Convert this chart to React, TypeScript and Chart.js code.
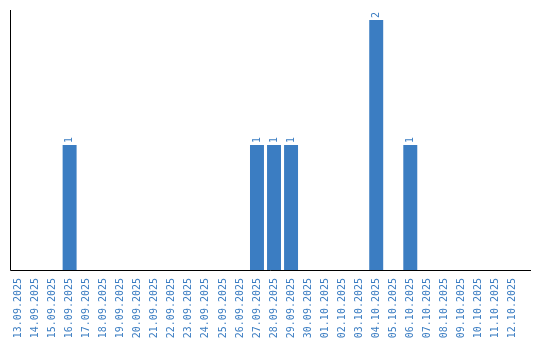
import React, { useEffect, useRef } from "react";
import { Chart, registerables } from "chart.js";

Chart.register(...registerables);

const dates = [
  "13.09.2025", "14.09.2025", "15.09.2025", "16.09.2025", "17.09.2025", "18.09.2025",
  "19.09.2025", "20.09.2025", "21.09.2025", "22.09.2025", "23.09.2025", "24.09.2025",
  "25.09.2025", "26.09.2025", "27.09.2025", "28.09.2025", "29.09.2025", "30.09.2025",
  "01.10.2025", "02.10.2025", "03.10.2025", "04.10.2025", "05.10.2025", "06.10.2025",
  "07.10.2025", "08.10.2025", "09.10.2025", "10.10.2025", "11.10.2025", "12.10.2025",
];
const counts = [
  0, 0, 0, 1, 0, 0,
  0, 0, 0, 0, 0, 0,
  0, 0, 1, 1, 1, 0,
  0, 0, 0, 2, 0, 1,
  0, 0, 0, 0, 0, 0,
];

const BLUE = "#3b7dc2";
const FONT = "'DejaVu Sans Mono', monospace";

const axesAndLabels = {
  id: "axesAndLabels",
  afterDatasetsDraw(chart: any) {
    const { ctx, chartArea } = chart;
    const meta = chart.getDatasetMeta(0);
    ctx.save();
    ctx.fillStyle = BLUE;
    ctx.font = "10px " + FONT;
    ctx.textAlign = "left";
    ctx.textBaseline = "middle";
    meta.data.forEach((bar: any, i: number) => {
      const v = counts[i];
      if (!v) return;
      ctx.save();
      ctx.translate(bar.x, bar.y - 2);
      ctx.rotate(-Math.PI / 2);
      ctx.fillText(String(v), 0, 0);
      ctx.restore();
    });
    ctx.strokeStyle = "#000";
    ctx.lineWidth = 1;
    const l = Math.round(chartArea.left) + 0.5;
    const b = Math.round(chartArea.bottom) + 0.5;
    ctx.beginPath();
    ctx.moveTo(l, chartArea.top);
    ctx.lineTo(l, b);
    ctx.lineTo(chartArea.right + 10, b);
    ctx.stroke();
    ctx.restore();
  },
};

export default function App() {
  const ref = useRef<HTMLCanvasElement>(null);
  useEffect(() => {
    document.body.style.margin = "0";
    const chart = new Chart(ref.current!, {
      type: "bar",
      data: {
        labels: dates,
        datasets: [
          {
            data: counts,
            backgroundColor: BLUE,
            categoryPercentage: 1,
            barPercentage: 0.82,
          },
        ],
      },
      options: {
        animation: false,
        responsive: false,
        maintainAspectRatio: false,
        layout: { padding: { left: 10, top: 10, right: 19, bottom: 0 } },
        plugins: { legend: { display: false }, tooltip: { enabled: false } },
        scales: {
          x: {
            grid: { display: false },
            border: { display: false },
            ticks: {
              color: BLUE,
              font: { family: FONT, size: 10 },
              minRotation: 90,
              maxRotation: 90,
              padding: 0,
              autoSkip: false,
            },
            afterFit(scale: any) {
              scale.height = 70;
            },
          },
          y: {
            display: false,
            min: 0,
            max: 2.08,
          },
        },
      },
      plugins: [axesAndLabels],
    });
    return () => chart.destroy();
  }, []);
  return (
    <div style={{ width: 540, height: 340 }}>
      <canvas ref={ref} width={540} height={340} style={{ display: "block" }} />
    </div>
  );
}
